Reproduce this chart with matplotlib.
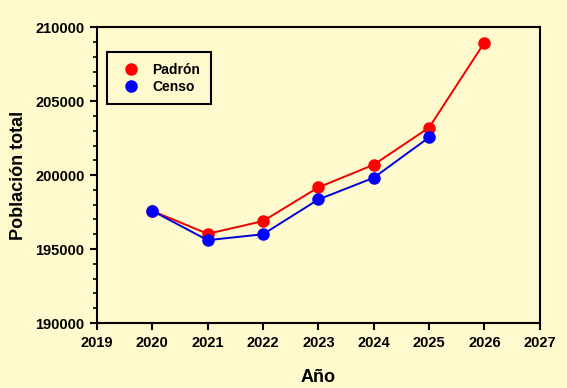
import matplotlib
matplotlib.use('Agg')
import matplotlib.pyplot as plt
from matplotlib.ticker import MultipleLocator

plt.rcParams['font.family'] = ['Liberation Sans', 'DejaVu Sans']
plt.rcParams['font.weight'] = 'bold'

# data
years_padron = [2020, 2021, 2022, 2023, 2024, 2025, 2026]
padron = [197580, 196030, 196890, 199170, 200700, 203210, 208960]
years_censo = [2020, 2021, 2022, 2023, 2024, 2025]
censo = [197580, 195600, 196000, 198350, 199820, 202550]

BG = '#fffacd'

fig = plt.figure(figsize=(5.67, 3.88), dpi=100, facecolor=BG)
ax = fig.add_axes([0.171, 0.1675, 0.781, 0.7625])
ax.set_facecolor(BG)

ax.plot(years_padron, padron, color='#ee0000', lw=1.4, marker='o', ms=8,
        mfc='#ff0000', mec='#ff0000', label='Padrón', zorder=3)
ax.plot(years_censo, censo, color='#0000dd', lw=1.4, marker='o', ms=8,
        mfc='#0000ff', mec='#0000ff', label='Censo', zorder=4)

ax.set_xlim(2019, 2027)
ax.set_ylim(190000, 210000)
ax.set_xticks(range(2019, 2028))
ax.yaxis.set_major_locator(MultipleLocator(5000))
ax.yaxis.set_minor_locator(MultipleLocator(1000))
ax.tick_params(axis='both', which='major', direction='out', length=5, width=1.5,
               labelsize=10.5, pad=4)
ax.tick_params(axis='y', which='minor', direction='out', length=3, width=1.2)
for lab in ax.get_xticklabels() + ax.get_yticklabels():
    lab.set_fontweight('bold')
for sp in ax.spines.values():
    sp.set_linewidth(1.5)

ax.set_xlabel('Año', fontsize=13, fontweight='bold', labelpad=14)
ax.set_ylabel('Población total', fontsize=13, fontweight='bold', labelpad=6)

leg = ax.legend(loc='upper left', bbox_to_anchor=(0.023, 0.915), handlelength=2.0,
                handletextpad=0.5, frameon=True, fancybox=False, numpoints=1,
                prop={'weight': 'bold', 'size': 10}, borderpad=0.75,
                labelspacing=0.2, borderaxespad=0)
for h in leg.legend_handles:
    h.set_linestyle('None')
leg.get_frame().set_edgecolor('black')
leg.get_frame().set_linewidth(1.5)
leg.get_frame().set_facecolor(BG)
leg.get_frame().set_alpha(1)

fig.savefig('out.png', dpi=100, facecolor=BG)
